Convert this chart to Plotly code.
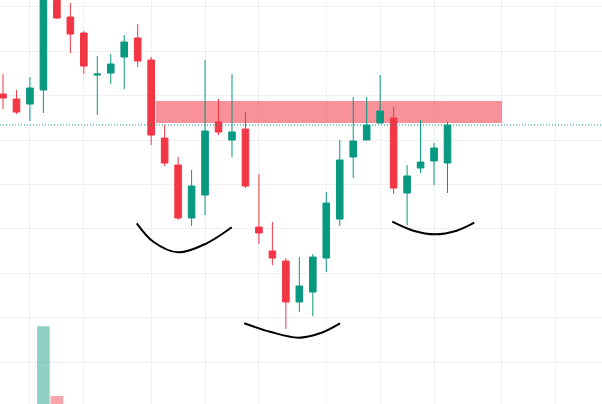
import plotly.graph_objects as go

# свечи (индекс бара, цены)
bar_idx = list(range(34))
open_ = [135.18, 134.62, 134.05, 135.63, 146.44, 143.85, 142.05, 137.32, 137.54, 139.35,
         141.49, 139.01, 130.22, 127.18, 121.22, 123.81, 132.03, 130.00, 131.24, 120.20,
         117.50, 116.37, 111.76, 112.88, 116.71, 121.10, 128.09, 130.00, 131.91, 132.48,
         124.03, 126.85, 127.64, 127.41]
high = [137.43, 135.63, 137.09, 148.24, 147.34, 145.43, 142.27, 139.46, 139.68, 141.82,
        143.06, 139.35, 131.69, 128.09, 126.62, 139.01, 134.62, 137.43, 133.15, 126.17,
        120.77, 116.71, 116.82, 117.16, 124.14, 130.00, 134.84, 134.84, 137.32, 133.72,
        127.18, 132.25, 129.66, 132.03]
low = [133.49, 132.93, 132.14, 133.04, 143.63, 139.80, 137.43, 132.82, 136.31, 135.74,
       138.22, 129.44, 127.07, 120.99, 120.32, 121.55, 130.56, 128.09, 124.59, 118.29,
       115.92, 108.72, 110.63, 110.18, 115.14, 120.32, 125.72, 130.00, 131.91, 123.92,
       120.43, 126.28, 124.93, 124.03]
close = [134.73, 133.15, 135.86, 147.12, 143.74, 141.94, 138.33, 137.43, 138.56, 141.04,
         138.90, 130.56, 127.41, 121.22, 124.82, 131.01, 130.90, 130.90, 124.82, 119.53,
         116.71, 111.76, 113.56, 116.82, 122.90, 127.75, 129.89, 131.69, 133.27, 124.59,
         125.95, 127.52, 129.10, 131.69]

# видимые столбцы объёма
vol_idx = [3, 4]
volume = [1.77e6, 1.08e6]
vol_colors = ["rgba(8,153,129,0.45)", "rgba(242,54,69,0.45)"]

# зона сопротивления
zone_x = [11.35, 37.05]
zone_y = [131.91, 134.39]

# дуги "голова и плечи"
left_arc_x = [9.93, 11.16, 13.01, 15.12, 16.98]
left_arc_y = [120.62, 118.55, 117.35, 118.37, 120.17]
head_arc_x = [17.91, 19.82, 21.92, 23.53, 25.02]
head_arc_y = [109.36, 108.41, 107.74, 108.23, 109.36]
right_arc_x = [28.90, 30.46, 32.07, 33.68, 34.99]
right_arc_y = [120.80, 119.79, 119.38, 119.79, 120.69]

# вертикальная сетка по времени
time_grid = [2, 6, 11, 15, 19, 24, 28, 32, 37, 41]

GREEN = "#089981"
RED = "#F23645"
GRID = "#eef0f3"

fig = go.Figure()

fig.add_trace(go.Bar(
    x=vol_idx, y=volume, yaxis="y2",
    marker=dict(color=vol_colors, line=dict(width=0)),
    hoverinfo="skip"
))

fig.add_trace(go.Candlestick(
    x=bar_idx, open=open_, high=high, low=low, close=close,
    increasing=dict(line=dict(color=GREEN, width=1), fillcolor=GREEN),
    decreasing=dict(line=dict(color=RED, width=1), fillcolor=RED),
))

for ax, ay in [(left_arc_x, left_arc_y), (head_arc_x, head_arc_y), (right_arc_x, right_arc_y)]:
    fig.add_trace(go.Scatter(
        x=ax, y=ay, mode="lines",
        line=dict(color="black", width=2, shape="spline"),
        hoverinfo="skip"
    ))

fig.add_shape(
    type="rect", xref="x", yref="y",
    x0=zone_x[0], x1=zone_x[1], y0=zone_y[0], y1=zone_y[1],
    fillcolor="rgba(242,54,69,0.55)", line=dict(width=0), layer="between"
)
fig.add_shape(
    type="line", xref="paper", yref="y",
    x0=0, x1=1, y0=close[-1], y1=close[-1],
    line=dict(color=GREEN, width=1, dash="1px,2px")
)

fig.update_layout(
    width=602, height=404,
    margin=dict(l=0, r=0, t=0, b=0),
    paper_bgcolor="white", plot_bgcolor="white",
    showlegend=False,
    bargap=0.06,
    xaxis=dict(
        range=[-0.223, 44.47], rangeslider=dict(visible=False),
        tickvals=time_grid, showticklabels=False, showgrid=True,
        gridcolor=GRID, zeroline=False, showline=False, ticks=""
    ),
    yaxis=dict(
        range=[100.27, 145.77], dtick=5, tick0=0, showticklabels=False,
        showgrid=True, gridcolor=GRID, zeroline=False, ticks=""
    ),
    yaxis2=dict(
        overlaying="y", range=[1.0e6, 5.0e6], showgrid=False,
        showticklabels=False, zeroline=False, ticks=""
    ),
)

# убираем отступ body, чтобы график начинался с левого верхнего угла
fig.write_html(
    "out.html",
    config={"displayModeBar": False},
    post_script="document.body.style.margin='0';"
)
